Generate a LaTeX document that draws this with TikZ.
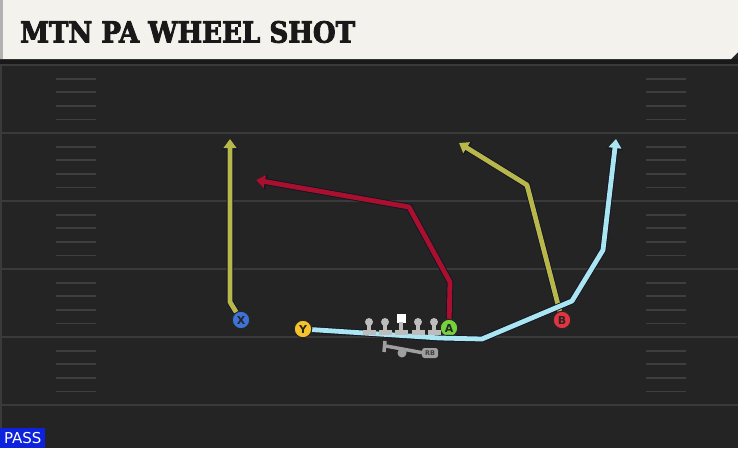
\documentclass[tikz,border=0pt]{standalone}
\usepackage{fontspec}
\setmainfont{DejaVu Sans}
\newfontfamily\titlefont[BoldFeatures={FakeBold=3}]{DejaVu Serif Condensed}
\usetikzlibrary{arrows.meta}

\definecolor{field}{HTML}{242424}
\definecolor{yardline}{HTML}{3A3A3A}
\definecolor{hashmark}{HTML}{3E3E3E}
\definecolor{banner}{HTML}{F4F2EC}
\definecolor{olive}{HTML}{B8B84A}
\definecolor{crimson}{HTML}{A8102E}
\definecolor{skyblue}{HTML}{A9E6F2}
\definecolor{xblue}{HTML}{3D72D9}
\definecolor{yyellow}{HTML}{F5C42C}
\definecolor{agreen}{HTML}{74D23C}
\definecolor{bred}{HTML}{E23440}
\definecolor{passblue}{HTML}{0C22DC}
\definecolor{oline}{HTML}{BDBDBD}
\definecolor{rimline}{HTML}{141428}

\tikzset{
  player/.style={circle,draw=black!85,line width=1pt,minimum size=17.5pt,inner sep=0pt,
    font=\bfseries\fontsize{11}{11}\selectfont,text=black!85},
  route/.style={draw=#1,line width=4.8pt,line join=round,
    -{Triangle[length=9pt,width=12.5pt]},
    preaction={draw=rimline,line width=6.6pt,-{Triangle[length=10.5pt,width=15pt]}}},
}

\begin{document}
\begin{tikzpicture}[x=1pt,y=-1pt]
  \useasboundingbox (0,0) rectangle (738,448);
  % field
  \fill[field] (0,0) rectangle (738,448);
  \draw[yardline,line width=1.5pt] (1,60) -- (1,448);
  \foreach \k in {0,...,5}
    \draw[yardline,line width=2.2pt] (0,65+68*\k) -- (738,65+68*\k);
  \foreach \k in {0,...,4}
    \foreach \j in {1,...,4} {
      \draw[hashmark,line width=1.8pt] (56,65+68*\k+13.6*\j) -- (96,65+68*\k+13.6*\j);
      \draw[hashmark,line width=1.8pt] (646,65+68*\k+13.6*\j) -- (686,65+68*\k+13.6*\j);
    }

  % title banner
  \fill[black!90] (0,59) rectangle (738,64);
  \fill[banner] (0,0) -- (738,0) -- (738,52) -- (731,59) -- (0,59) -- cycle;
  \fill[black!30] (0,0) rectangle (3,59);
  \node[anchor=west,inner sep=0pt,text=black!90] (title) at (20,32)
    {\titlefont\bfseries\fontsize{29}{29}\selectfont MTN PA WHEEL SHOT};

  % players
  \node[player,fill=xblue] (X) at (241,320) {X};
  \node[player,fill=yyellow] (Y) at (303,329) {Y};
  \node[player,fill=agreen] (A) at (449,328) {A};
  \node[player,fill=bred] (B) at (562,320) {B};

  % route ends
  \coordinate (xend) at (230,139);
  \coordinate (aend) at (256,180);
  \coordinate (bend) at (459,143);
  \coordinate (yend) at (616,139);

  % routes
  \draw[route=olive] (X) -- (230,302) -- (xend);
  \draw[route=crimson] (A) -- (450,282) -- (409,207) -- (aend);
  \draw[route=olive] (B) -- (527,185) -- (bend);
  \draw[route=skyblue] (Y) -- (440,338) -- (482,339) -- (572,301) -- (603,250) -- (yend);

  % offensive line
  \foreach \x in {369,385,418,434} {
    \fill[oline] (\x,322) circle (4);
    \fill[oline] (\x-2,322) rectangle (\x+2,332);
    \fill[oline] (\x-6.5,330) rectangle (\x+6.5,334.5);
  }
  \fill[white] (396.5,313.5) rectangle (405.5,322.5);
  \fill[oline] (399,322) rectangle (403,332);
  \fill[oline] (394.5,330) rectangle (407.5,334.5);

  % backfield
  \draw[gray!75,line width=3.5pt] (385,341) -- (384,352);
  \draw[gray!75,line width=3.5pt] (386,346) -- (424,353);
  \fill[gray!75] (402,353) circle (4.5);
  \node[fill=gray!75,rounded corners=2.5pt,inner sep=0pt,minimum width=16pt,minimum height=10pt,
    font=\bfseries\fontsize{6.5}{6.5}\selectfont,text=black!75] (RB) at (430,353) {RB};

  % tag
  \node[anchor=south west,fill=passblue,text=white,inner sep=0pt,minimum width=45pt,
    minimum height=20pt,font=\fontsize{15}{15}\selectfont] (pass) at (0,448) {PASS};
\end{tikzpicture}
\end{document}
